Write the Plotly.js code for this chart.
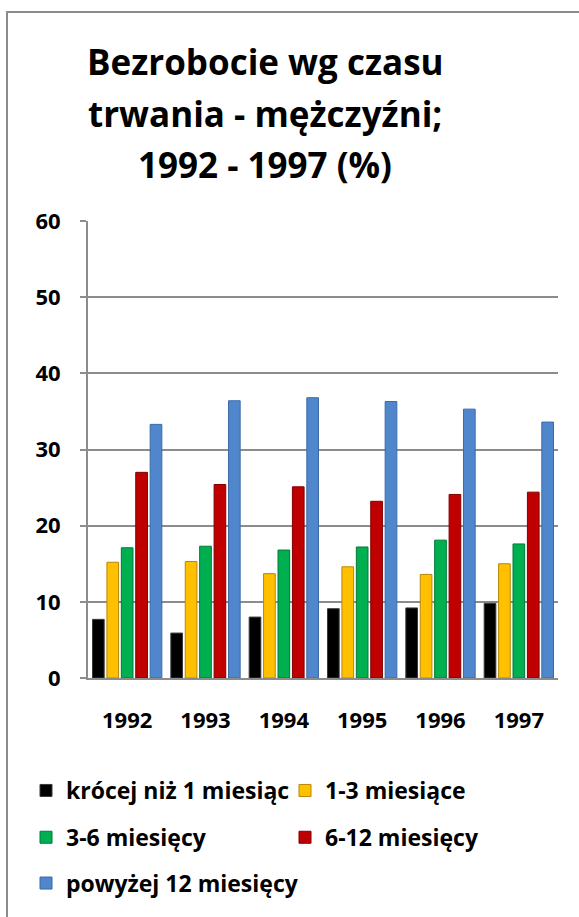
<!DOCTYPE html>
<html>
<head>
<meta charset="utf-8">
<script src="https://cdn.plot.ly/plotly-3.0.1.min.js"></script>
<style>
html,body{margin:0;padding:0;background:#fff;}
#chart{width:579px;height:917px;}
</style>
</head>
<body>
<div id="chart"></div>
<script>
const years = ['1992','1993','1994','1995','1996','1997'];
const seriesNames = ['krócej niż 1 miesiąc','1-3 miesiące','3-6 miesięcy','6-12 miesięcy','powyżej 12 miesięcy'];
const lessThan1 = [7.7, 5.9, 8.0, 9.1, 9.2, 9.8];
const from1to3 = [15.2, 15.3, 13.7, 14.6, 13.6, 15.0];
const from3to6 = [17.1, 17.3, 16.8, 17.2, 18.1, 17.6];
const from6to12 = [27.0, 25.4, 25.1, 23.2, 24.1, 24.4];
const over12 = [33.3, 36.4, 36.8, 36.3, 35.3, 33.6];
const yTicks = [0, 10, 20, 30, 40, 50, 60];
const titleLines = ['Bezrobocie wg czasu', 'trwania - mężczyźni;', '1992 - 1997 (%)'];

const colors = ['#000000', '#FFC000', '#00B050', '#C00000', '#4F86CC'];
const lines = ['#3a3a3a', '#B8860B', '#007A38', '#800000', '#3A6BA8'];
const values = [lessThan1, from1to3, from3to6, from6to12, over12];
const legendOf = ['legend', 'legend', 'legend2', 'legend2', 'legend3'];

const FONT = '"Open Sans", sans-serif';

const traces = values.map((v, i) => ({
  type: 'bar',
  name: '<b>' + seriesNames[i] + '</b>',
  x: years,
  y: v,
  legend: legendOf[i],
  marker: {color: colors[i], line: {color: lines[i], width: 1}},
  hoverinfo: 'x+y+name'
}));

// plot area: x 88..558, y 221..680
const L = 88, R = 558, T = 221, B = 680;
const pw = R - L, ph = B - T;
const px = x => (x - L) / pw;
const py = y => (B - y) / ph;

const legendBase = {
  orientation: 'h',
  x: px(26), xanchor: 'left',
  yanchor: 'middle',
  entrywidth: 214, entrywidthmode: 'pixels',
  font: {family: FONT, size: 23, color: '#000'},
  bgcolor: 'rgba(0,0,0,0)',
  traceorder: 'normal'
};

const titleCenters = [61, 113, 164];
const annotations = titleLines.map((t, i) => ({
  xref: 'paper', yref: 'paper',
  x: px(265), y: py(titleCenters[i]),
  xanchor: 'center', yanchor: 'middle',
  text: '<b>' + t + '</b>',
  showarrow: false,
  font: {family: FONT, size: 35, color: '#000'}
}));

const layout = {
  width: 579, height: 917,
  margin: {l: L, r: 579 - R, t: T, b: 917 - B},
  paper_bgcolor: '#ffffff',
  plot_bgcolor: '#ffffff',
  font: {family: FONT, color: '#000', size: 20},
  barmode: 'group',
  bargap: 0.08,
  bargroupgap: 0.19,
  xaxis: {
    type: 'category',
    tickvals: years,
    ticktext: years.map(y => '<b>' + y + '</b>'),
    tickfont: {family: FONT, size: 22, color: '#000'},
    showline: true, linecolor: '#8c8c8c', linewidth: 2,
    ticks: '', showgrid: false,
    ticklabelstandoff: 22,
    fixedrange: true
  },
  yaxis: {
    range: [0, 60],
    tickvals: yTicks,
    ticktext: yTicks.map(t => '<b>' + t + '</b>'),
    tickfont: {family: FONT, size: 22, color: '#000'},
    showline: true, linecolor: '#8c8c8c', linewidth: 2,
    showgrid: true, gridcolor: '#8c8c8c', gridwidth: 2,
    ticks: 'outside', ticklen: 6, tickcolor: '#8c8c8c', tickwidth: 2,
    ticklabelstandoff: 15,
    zeroline: false,
    fixedrange: true
  },
  showlegend: true,
  legend: Object.assign({}, legendBase, {y: py(793)}),
  legend2: Object.assign({}, legendBase, {y: py(840)}),
  legend3: Object.assign({}, legendBase, {y: py(886), entrywidth: 320}),
  annotations: annotations,
  shapes: [{
    type: 'rect', xref: 'paper', yref: 'paper',
    x0: px(7), x1: px(600), y0: py(940), y1: py(11),
    line: {color: '#8c8c8c', width: 2}, fillcolor: 'rgba(0,0,0,0)', layer: 'below'
  }]
};

Plotly.newPlot('chart', traces, layout, {displayModeBar: false, staticPlot: true});
</script>
</body>
</html>
